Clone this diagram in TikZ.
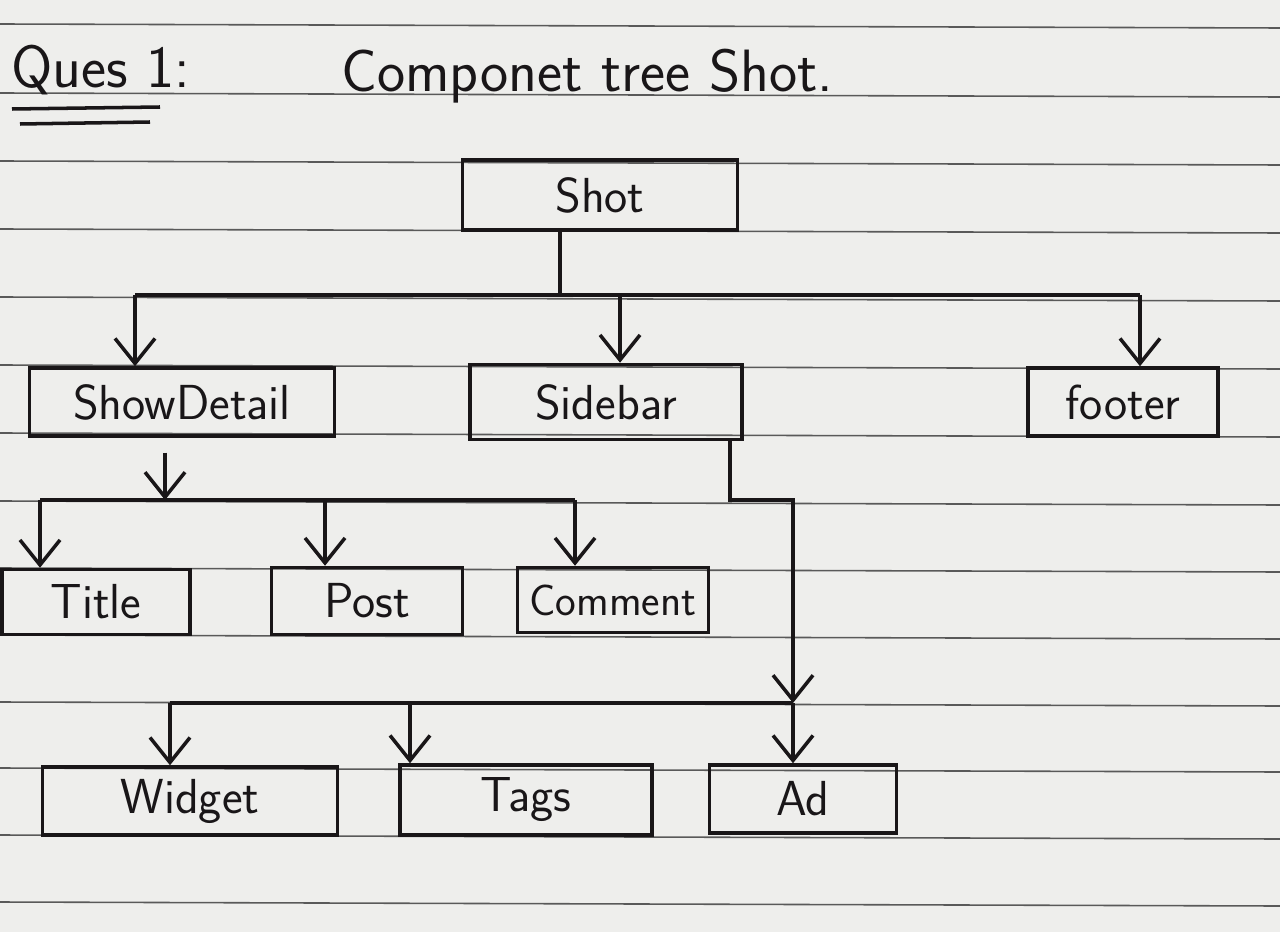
\documentclass[tikz,border=0pt]{standalone}
\usepackage{tikz}
\usetikzlibrary{arrows.meta}
\definecolor{paper}{RGB}{238,238,236}
\definecolor{ink}{RGB}{25,22,24}
\tikzset{
  compbox/.style={draw=ink, line width=2pt, inner sep=0pt, minimum height=1.36cm,
    font=\sffamily\fontsize{28}{32}\selectfont, text=ink},
  wire/.style={draw=ink, line width=2pt},
  arr/.style={wire, -{Straight Barb[length=5mm,width=8mm,line width=2pt]}},
  ruled/.style={draw=black!65, line width=0.9pt}
}
\begin{document}
\begin{tikzpicture}[x=0.02cm, y=-0.02cm]
        % paper
        \fill[paper] (0,0) rectangle (1280,932);
        \useasboundingbox (0,0) rectangle (1280,932);
        \foreach \ly in {24,93,161,229,297,365,433,501,568,635,702,768,835,902}
          \draw[ruled] (0,\ly) -- (1280,\ly+4);
        
        % Heading
        \node[anchor=base west, font=\sffamily\fontsize{34}{40}\selectfont, text=ink] (ques) at (5,88) {Ques 1:};
        \draw[wire] (12,109) -- (160,107);
        \draw[wire] (20,124) -- (150,122);
        \node[anchor=base west, font=\sffamily\fontsize{34}{40}\selectfont, text=ink] (heading) at (335,92) {Componet tree Shot.};
        
        % Shot
        \node[compbox, minimum width=5.5cm, minimum height=1.4cm] (shot) at (600,195) {Shot};
        
        % ShowDetail, Sidebar, footer
        \node[compbox, minimum width=6.1cm] (showdetail) at (182,402) {ShowDetail};
        \node[compbox, minimum width=5.44cm, minimum height=1.5cm] (sidebar) at (606,402) {Sidebar};
        \node[compbox, minimum width=3.8cm] (footer) at (1123,402) {footer};
        
        % Title, Post, Comment
        \node[compbox, minimum width=3.76cm, minimum height=1.3cm] (title) at (96,602) {Title};
        \node[compbox, minimum width=3.82cm, minimum height=1.34cm] (post) at (367,601) {Post};
        \node[compbox, minimum width=3.82cm, minimum height=1.3cm, font=\sffamily\fontsize{25}{30}\selectfont] (comment) at (613,600) {Comment};
        
        % Widget, Tags, Ad
        \node[compbox, minimum width=5.9cm] (widget) at (190,801) {Widget};
        \node[compbox, minimum width=5.04cm, minimum height=1.4cm] (tags) at (526,800) {Tags};
        \node[compbox, minimum width=3.74cm] (ad) at (803,799) {Ad};
        
        % Shot -> ShowDetail, Sidebar, footer
        \coordinate (b1) at (560,295);
        \coordinate (b1l) at (135,295);
        \coordinate (b1m) at (620,295);
        \coordinate (b1r) at (1140,295);
        \draw[wire] (b1 |- shot.south) -- (b1);
        \draw[wire] (b1l) -- (b1r);
        \draw[arr] (b1l) -- (b1l |- showdetail.north);
        \draw[arr] (b1m) -- (b1m |- sidebar.north);
        \draw[arr] (b1r) -- (b1r |- footer.north);
        
        % ShowDetail -> Title, Post, Comment
        \coordinate (b2) at (165,500);
        \coordinate (b2l) at (40,500);
        \coordinate (b2p) at (325,500);
        \coordinate (b2r) at (575,500);
        \draw[arr] ([yshift=-0.3cm]b2 |- showdetail.south) -- (b2);
        \draw[wire] (b2l) -- (b2r);
        \draw[arr] (b2l) -- (b2l |- title.north);
        \draw[arr] (b2p) -- (b2p |- post.north);
        \draw[arr] (b2r) -- (b2r |- comment.north);
        
        % Sidebar -> Widget, Tags, Ad
        \coordinate (s1) at (730,500);
        \coordinate (b3) at (793,703);
        \coordinate (b3l) at (170,703);
        \coordinate (b3t) at (410,703);
        \draw[arr] (s1 |- sidebar.south) -- (s1) -| (b3);
        \draw[wire] (b3l) -- (b3);
        \draw[arr] (b3l) -- (b3l |- widget.north);
        \draw[arr] (b3t) -- (b3t |- tags.north);
        \draw[arr] (b3) -- (b3 |- ad.north);
    \end{tikzpicture}
\end{document}
